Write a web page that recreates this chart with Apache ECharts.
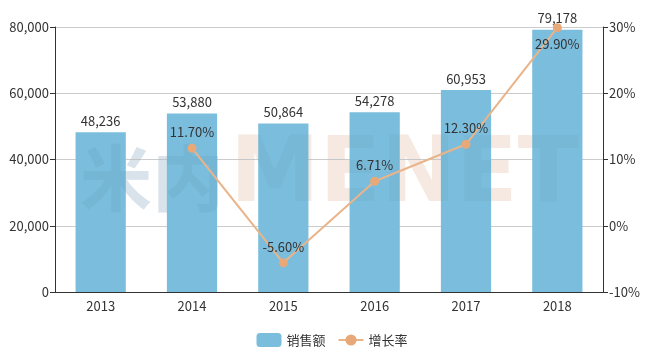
<!DOCTYPE html>
<html>
<head>
<meta charset="utf-8">
<script src="https://cdn.jsdelivr.net/npm/echarts@6/dist/echarts.min.js"></script>
<style>
  html, body { margin: 0; padding: 0; background: #fff; }
  #chart { width: 664px; height: 350px; }
</style>
</head>
<body>
<div id="chart"></div>
<script>
// Annual sales and year-over-year growth, 2013–2018
const years = ['2013', '2014', '2015', '2016', '2017', '2018'];
const sales = [48236, 53880, 50864, 54278, 60953, 79178];
const growth = [null, 11.70, -5.60, 6.71, 12.30, 29.90];
const salesName = '销售额';
const growthName = '增长率';

const textColor = '#333';
const fontSize = 13;
const font = '"Noto Sans CJK SC", "Noto Sans", sans-serif';

// brand mark: a pale copy behind the bars and a faint shade over them
function mark(z, wordFill, logoFill) {
  return [{
    type: 'text', x: 230, y: 178, z: z, silent: true,
    style: {
      text: 'MENET',
      font: 'bold 90px "DejaVu Sans", sans-serif',
      verticalAlign: 'middle',
      fill: wordFill
    }
  }, {
    type: 'text', x: 80, y: 178, z: z, silent: true,
    style: {
      text: '米内',
      font: 'bold 72px "Noto Sans CJK SC", sans-serif',
      verticalAlign: 'middle',
      fill: logoFill
    }
  }];
}

const chart = echarts.init(document.getElementById('chart'));
chart.setOption({
  animation: false,
  backgroundColor: '#fff',
  textStyle: { fontFamily: font },
  graphic: mark(-1, 'rgb(254, 240, 230)', 'rgb(228, 236, 244)')
    .concat(mark(3, 'rgba(40, 80, 110, 0.04)', 'rgba(40, 80, 110, 0.06)')),
  grid: { left: 55, right: 61, top: 27, bottom: 58 },
  legend: {
    bottom: -2,
    left: 'center',
    itemWidth: 25,
    itemHeight: 14,
    itemGap: 12,
    textStyle: { color: textColor, fontSize: fontSize, fontFamily: font },
    data: [salesName, growthName]
  },
  xAxis: {
    type: 'category',
    data: years,
    axisLine: { lineStyle: { color: textColor } },
    axisTick: { lineStyle: { color: textColor } },
    axisLabel: { color: textColor, fontSize: fontSize, margin: 8 }
  },
  yAxis: [{
    type: 'value',
    min: 0,
    max: 80000,
    interval: 20000,
    axisLine: { show: true, lineStyle: { color: textColor } },
    axisTick: { show: true, lineStyle: { color: textColor } },
    axisLabel: {
      color: textColor,
      fontSize: fontSize,
      margin: 6,
      formatter: v => v.toLocaleString('en-US')
    },
    splitLine: { lineStyle: { color: '#ccc' } }
  }, {
    type: 'value',
    min: -10,
    max: 30,
    interval: 10,
    axisLine: { show: true, lineStyle: { color: textColor } },
    axisTick: { show: true, lineStyle: { color: textColor } },
    axisLabel: { color: textColor, fontSize: fontSize, margin: 6, formatter: '{value}%' },
    splitLine: { show: false }
  }],
  series: [{
    name: salesName,
    type: 'bar',
    z: 2,
    data: sales,
    barWidth: '55%',
    itemStyle: { color: '#7bbddc' },
    label: {
      show: true,
      position: 'top',
      color: textColor,
      fontSize: fontSize,
      formatter: p => p.value.toLocaleString('en-US')
    }
  }, {
    name: growthName,
    type: 'line',
    z: 5,
    yAxisIndex: 1,
    data: growth.map((v, i) => (
      v === null ? null : {
        value: v,
        label: { position: i === growth.length - 1 ? 'bottom' : 'top' }
      }
    )),
    symbol: 'circle',
    symbolSize: 9,
    lineStyle: { color: '#e9b48a', width: 2 },
    itemStyle: { color: '#e8a878' },
    label: {
      show: true,
      color: textColor,
      fontSize: fontSize,
      distance: 5,
      formatter: p => p.value.toFixed(2) + '%'
    }
  }]
});
</script>
</body>
</html>
